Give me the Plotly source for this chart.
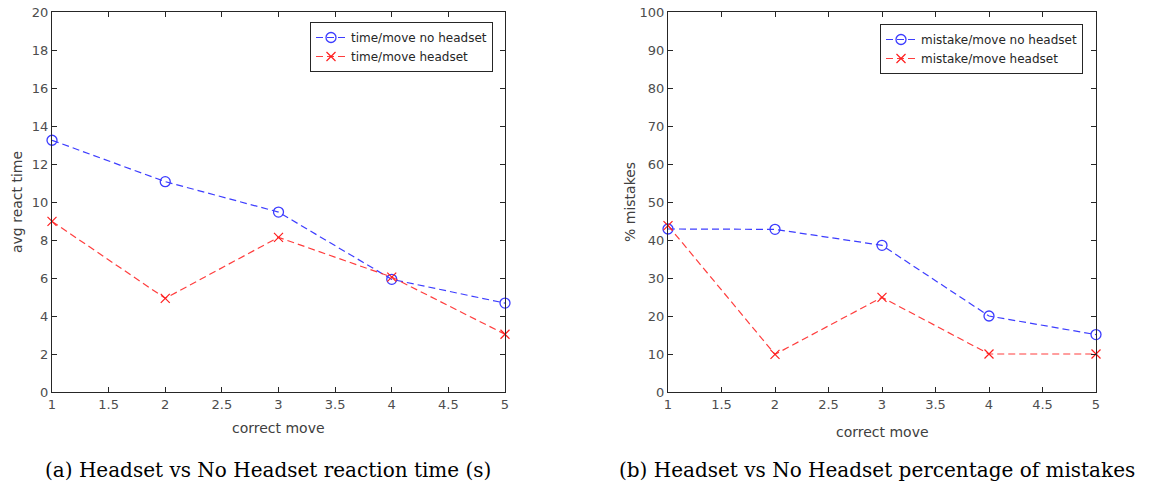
import plotly.graph_objects as go

moves = [1, 2, 3, 4, 5]

time_no_headset = [13.25, 11.07, 9.47, 5.93, 4.68]
time_headset = [8.98, 4.93, 8.14, 6.05, 3.04]

mistake_no_headset = [42.9, 42.8, 38.6, 20.0, 15.1]
mistake_headset = [43.8, 9.9, 24.9, 10.0, 10.0]

W, H = 1161, 489
TICK_FONT = dict(family='DejaVu Sans', size=13, color='#4d4d4d')
DASH = '7px,4px'


def px_x(p):
    return p / W


def px_y(p):
    return 1 - p / H


fig = go.Figure()

series = [
    ('x', 'y', 'legend', time_no_headset, time_headset, 'time/move'),
    ('x2', 'y2', 'legend2', mistake_no_headset, mistake_headset, 'mistake/move'),
]
for xa, ya, leg, blue_vals, red_vals, label in series:
    fig.add_trace(go.Scatter(
        x=moves, y=blue_vals, xaxis=xa, yaxis=ya, legend=leg,
        mode='lines+markers', name=f'{label} no headset',
        line=dict(color='rgba(40,40,255,0.9)', width=1.2, dash=DASH),
        marker=dict(symbol='circle-open', size=10, color='rgb(60,60,255)',
                    line=dict(width=1.3)),
        cliponaxis=False,
    ))
    fig.add_trace(go.Scatter(
        x=moves, y=red_vals, xaxis=xa, yaxis=ya, legend=leg,
        mode='lines+markers', name=f'{label} headset',
        line=dict(color='rgba(255,40,40,0.9)', width=1.2, dash=DASH),
        marker=dict(symbol='x-thin-open', size=9, color='rgb(255,30,30)',
                    line=dict(width=1.2)),
        cliponaxis=False,
    ))

axis_common = dict(
    showgrid=False, zeroline=False, showline=True, linecolor='#262626',
    linewidth=1, mirror='ticks', ticks='inside', ticklen=5, tickcolor='#262626',
    tickfont=TICK_FONT, automargin=False, ticklabeloverflow='allow',
)

y_dom = [px_y(392), px_y(12)]
legend_style = dict(xanchor='right', yanchor='top', bgcolor='white',
                    bordercolor='#262626', borderwidth=1,
                    font=dict(family='DejaVu Sans', size=12, color='#262626'),
                    tracegroupgap=0, itemwidth=30)
fig.update_layout(
    width=W, height=H,
    margin=dict(l=0, r=0, t=0, b=0, autoexpand=False),
    paper_bgcolor='white', plot_bgcolor='white',
    showlegend=True,
    xaxis=dict(domain=[px_x(52), px_x(505)], range=[1, 5], dtick=0.5,
               anchor='y', **axis_common),
    yaxis=dict(domain=y_dom, range=[0, 20], dtick=2, anchor='x', **axis_common),
    xaxis2=dict(domain=[px_x(668), px_x(1096)], range=[1, 5], dtick=0.5,
                anchor='y2', **axis_common),
    yaxis2=dict(domain=y_dom, range=[0, 100], dtick=10, anchor='x2', **axis_common),
    legend=dict(x=px_x(493), y=px_y(22), **legend_style),
    legend2=dict(x=px_x(1083), y=px_y(24), **legend_style),
)

label_font = dict(family='DejaVu Sans', size=14, color='#404040')
caption_font = dict(family='DejaVu Serif', size=20, color='black')
annotations = [
    dict(text='correct move', x=px_x(278), y=px_y(428), font=label_font),
    dict(text='correct move', x=px_x(882), y=px_y(432), font=label_font),
    dict(text='avg react time', x=px_x(17), y=px_y(202), textangle=-90, font=label_font),
    dict(text='% mistakes', x=px_x(630), y=px_y(202), textangle=-90, font=label_font),
    dict(text='(a) Headset vs No Headset reaction time (s)', x=px_x(268), y=px_y(470),
         font=caption_font),
    dict(text='(b) Headset vs No Headset percentage of mistakes', x=px_x(877),
         y=px_y(470), font=caption_font),
]
for a in annotations:
    fig.add_annotation(xref='paper', yref='paper', showarrow=False,
                       xanchor='center', yanchor='middle', **a)

# drop the default page margin so the figure sits at the window's corner
fig.write_html('out.html', config={'displayModeBar': False},
               post_script="document.body.style.margin='0px';")
